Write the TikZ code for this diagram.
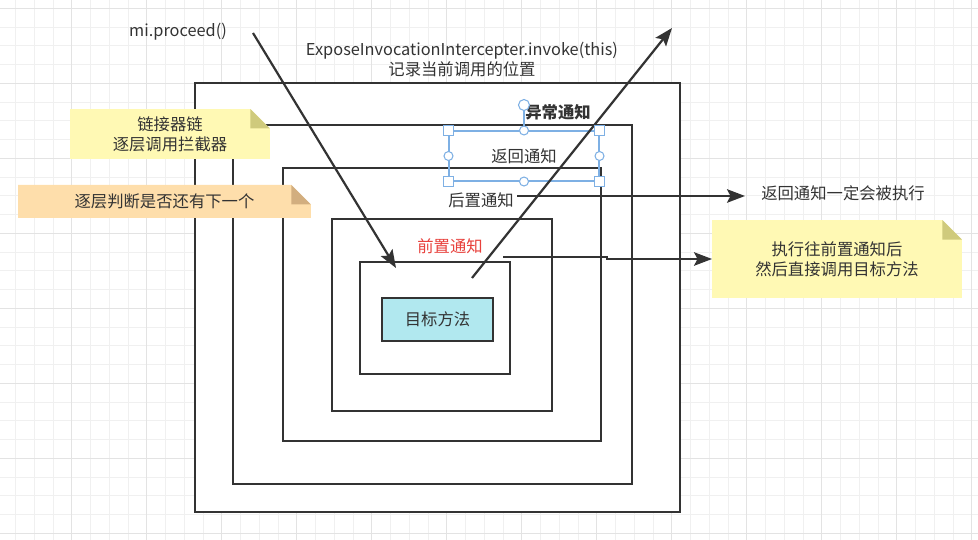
\documentclass[tikz,border=0pt]{standalone}
\usepackage{fontspec}
\setmainfont{Noto Sans CJK SC}
\usetikzlibrary{arrows.meta}

\definecolor{ink}{HTML}{333333}
\definecolor{gridminor}{HTML}{F0F0F0}
\definecolor{gridmajor}{HTML}{E3E3E3}
\definecolor{noteyellow}{HTML}{FFF9B4}
\definecolor{foldyellow}{HTML}{CFCA7C}
\definecolor{noteorange}{HTML}{FEDEAB}
\definecolor{foldorange}{HTML}{D2AE7F}
\definecolor{targetfill}{HTML}{B1E8EF}
\definecolor{selblue}{HTML}{7EB0E4}
\definecolor{adviceRed}{HTML}{E8413C}

\begin{document}
\begin{tikzpicture}[
    x=0.02cm,
    y=-0.02cm,
    font=\fontsize{9.3pt}{11.4pt}\selectfont,
    text=ink,
    frame/.style={draw=ink, line width=1.4pt, fill=white, inner sep=0pt, outer sep=0pt},
    flow/.style={draw=ink, line width=1.25pt, -{Stealth[length=3.6mm, width=2.7mm, inset=0.7mm]}},
    note/.style n args={2}{inner sep=0pt, outer sep=0pt, align=center,
      path picture={
        \fill[#1] (path picture bounding box.north west)
          -- ([xshift=-0.39cm]path picture bounding box.north east)
          -- ([yshift=-0.39cm]path picture bounding box.north east)
          -- (path picture bounding box.south east)
          -- (path picture bounding box.south west) -- cycle;
        \fill[#2] ([xshift=-0.39cm]path picture bounding box.north east)
          -- ([xshift=-0.39cm, yshift=-0.39cm]path picture bounding box.north east)
          -- ([yshift=-0.39cm]path picture bounding box.north east) -- cycle;
      }},
    sqhandle/.style={draw=selblue, fill=white, line width=0.6pt, minimum size=0.2cm, inner sep=0pt},
    cirhandle/.style={circle, draw=selblue, fill=white, line width=0.6pt, minimum size=0.18cm, inner sep=0pt}
]
\useasboundingbox (0,0) rectangle (978,540);

% background grid
\foreach \i in {0,...,51}
  \draw[gridminor, line width=0.5pt] ({15.45+18.75*\i},0) -- ({15.45+18.75*\i},540);
\foreach \j in {0,...,28}
  \draw[gridminor, line width=0.5pt] (0,{8.3+18.75*\j}) -- (978,{8.3+18.75*\j});
\foreach \i in {1,...,13}
  \draw[gridmajor, line width=0.6pt] ({-3.3+75*\i},0) -- ({-3.3+75*\i},540);
\foreach \j in {0,...,7}
  \draw[gridmajor, line width=0.6pt] (0,{8.3+75*\j}) -- (978,{8.3+75*\j});

% nested advice frames
\node[frame, minimum width=9.7cm, minimum height=8.58cm] (box1) at (437.5,297.5) {};
\node[frame, minimum width=7.98cm, minimum height=7.18cm] (box2) at (432.5,304.5) {};
\node[frame, minimum width=6.36cm, minimum height=5.46cm] (box3) at (442,304.5) {};
\node[frame, minimum width=4.4cm, minimum height=3.84cm] (box4) at (442,315) {};
\node[frame, minimum width=3cm, minimum height=2.24cm] (box5) at (435,318) {};
\node[frame, fill=targetfill, minimum width=2.22cm, minimum height=0.86cm] (target) at (437.5,319.5) {目标方法};

% sticky notes
\node[note={noteyellow}{foldyellow}, minimum width=4cm, minimum height=1cm] (chainNote) at (170,134) {链接器链\\逐层调用拦截器};
\node[note={noteorange}{foldorange}, minimum width=5.86cm, minimum height=0.66cm] (nextNote) at (164.5,201.5) {逐层判断是否还有下一个};
\node[note={noteyellow}{foldyellow}, minimum width=5cm, minimum height=1.56cm] (execNote) at (837,259) {执行往前置通知后\\然后直接调用目标方法};

% labels
\node (proceedLabel) at (178,32) {mi.proceed()};
\node[align=center] (exposeLabel) at (462,60) {ExposeInvocationIntercepter.invoke(this)\\记录当前调用的位置};
\node[font=\fontsize{9.3pt}{11.4pt}\selectfont\bfseries] (throwLabel) at (558,112) {异常通知};
\node[draw=selblue, line width=0.6pt, minimum width=3cm, minimum height=1cm, inner sep=0pt] (returnLabel) at (524,156) {返回通知};
\node (afterLabel) at (481,200) {后置通知};
\node[text=adviceRed] (beforeLabel) at (450,246) {前置通知};
\node (returnNote) at (843,193) {返回通知一定会被执行};

% arrows
\coordinate (proceedFrom) at (253,33);
\coordinate (proceedTo) at (396,268);
\coordinate (exposeFrom) at (472,278);
\coordinate (exposeTo) at (672,28);
\coordinate (afterFrom) at (517,196);
\coordinate (afterTo) at (745,196);
\coordinate (beforeFrom) at (503,257);
\draw[flow] (proceedFrom) -- (proceedTo);
\draw[flow] (exposeFrom) -- (exposeTo);
\draw[flow] (afterFrom) -- (afterTo);
\draw[flow] (beforeFrom) -- ++(104,0) -- ++(0,2) -- (execNote.west);

% selection handles
\node[cirhandle, minimum size=0.22cm] (rotHandle) at (524,105) {};
\draw[selblue, line width=0.6pt] (rotHandle) -- (returnLabel.north);
\foreach \a in {north west, north east, south west, south east}
  \node[sqhandle] at (returnLabel.\a) {};
\foreach \a in {north, south, east, west}
  \node[cirhandle] at (returnLabel.\a) {};
\end{tikzpicture}
\end{document}
